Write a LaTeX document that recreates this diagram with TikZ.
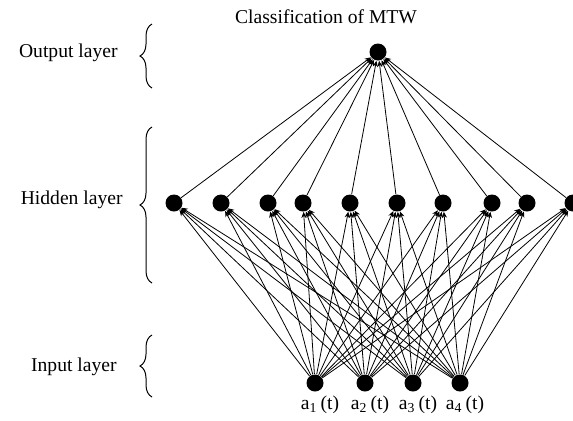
\documentclass[tikz,border=0pt]{standalone}
\usepackage{fontspec}
\setmainfont{Liberation Serif}
\usepackage{tikz}
\usetikzlibrary{positioning,arrows.meta,decorations.pathreplacing}

\begin{document}
\begin{tikzpicture}[x=0.5pt, y=-0.5pt, font=\fontsize{9.8}{12}\selectfont,
  neuron/.style={circle, fill=black, inner sep=0pt, minimum size=8.5pt},
  link/.style={-{Stealth[length=3pt,width=2.6pt]}, line width=0.4pt},
  layerbrace/.style={decorate, decoration={brace, amplitude=6pt}, line width=0.5pt},
  layername/.style={anchor=east, inner sep=0pt}]
  \useasboundingbox (0,0) rectangle (573,420);

  % layer names and braces
  \node[layername] (lout) at (118,53) {Output layer};
  \node[layername] (lhid) at (123,200) {Hidden layer};
  \node[layername] (lin) at (117,367) {Input layer};
  \draw[layerbrace] (152,88) -- (152,24);
  \draw[layerbrace] (152,283) -- (152,127);
  \draw[layerbrace] (152,397) -- (152,335);

  % neurons
  \node (title) at (326,17) {Classification of MTW};
  \node[neuron] (out) at (378,52) {};
  \foreach \x [count=\i] in {174,221,268,303,350,397,443,492,527,573}
    \node[neuron] (h\i) at (\x,203) {};
  \foreach \x [count=\i] in {315,365,413,460}{
    \node[neuron] (in\i) at (\x,383) {};
    \node (a\i) at (\x+5,405) {a\textsubscript{\i}\,(t)};
  }

  % connections
  \foreach \i in {1,...,10}{
    \draw[link] (h\i) -- (out);
    \foreach \j in {1,...,4}
      \draw[link] (in\j) -- (h\i);
  }
\end{tikzpicture}
\end{document}
